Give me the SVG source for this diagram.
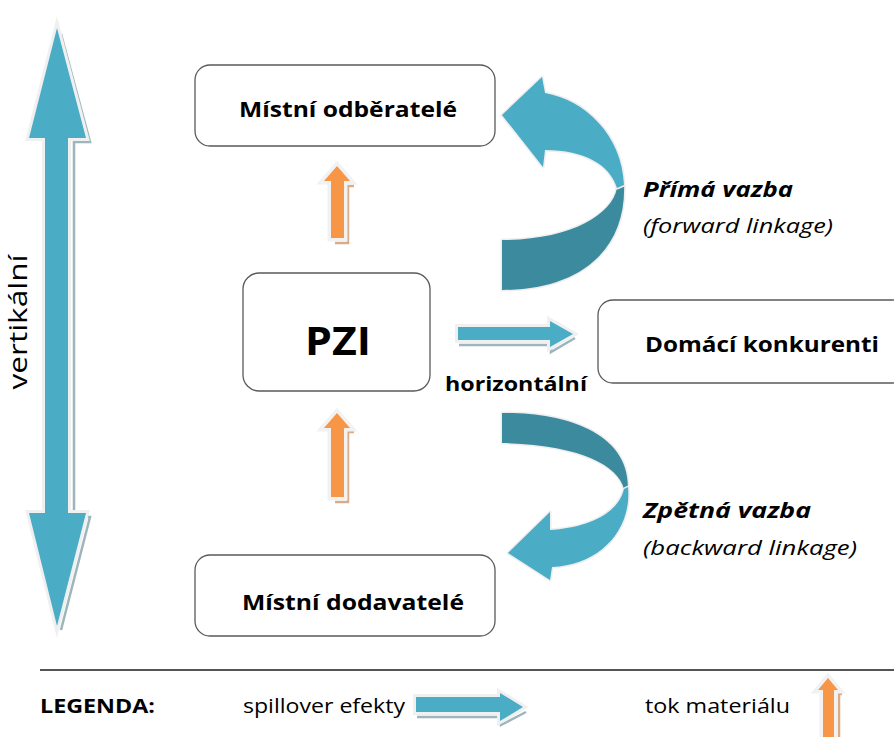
<svg xmlns="http://www.w3.org/2000/svg" width="894" height="737" viewBox="0 0 894 737">
<style>
.box{fill:#fff;stroke:#5a5a5a;stroke-width:1.3}
.t{font-family:"Open Sans","Liberation Sans",sans-serif;fill:#000}
.b{font-weight:bold}
.bl{fill:#4BACC6;stroke:#f0f0f0;stroke-width:6;stroke-linejoin:miter;stroke-miterlimit:10;paint-order:stroke}
.blc{fill:#4BACC6;stroke:#eeeeee;stroke-width:3;stroke-linejoin:round;paint-order:stroke}
.dk{fill:#3b8a9e;stroke:#eeeeee;stroke-width:3;stroke-linejoin:round;paint-order:stroke}
.bsh{fill:none;stroke:#9db5bc;stroke-width:2.5}
.or{fill:#F79646;stroke:#f2f2f2;stroke-width:7;stroke-linejoin:miter;paint-order:stroke}
.osh{fill:none;stroke:#d9ab88;stroke-width:2.5}
</style>
<rect width="894" height="737" fill="#fff"/>

<g id="vertical-arrow">
<path class="bsh" d="M59,32 L88,140 L72,140 L72,515 L88,515 L59,628" transform="translate(2,2)"/>
<path class="bl" d="M57,28 L86,138 L68,138 L68,513 L86,513 L57,626 L29,513 L45,513 L45,138 L29,138 Z"/>
<text class="t" x="0" y="0" font-size="25" transform="translate(27,322) rotate(-90)" text-anchor="middle" textLength="135" lengthAdjust="spacingAndGlyphs">vertikální</text>
</g>

<g id="mistni-odberatele">
<rect class="box" x="195" y="65" width="300" height="81" rx="15"/>
<text class="t b" x="348" y="117" font-size="22" text-anchor="middle" textLength="218" lengthAdjust="spacingAndGlyphs">Místní odběratelé</text>
</g>

<g id="pzi">
<rect class="box" x="243" y="273" width="187" height="118" rx="16"/>
<text class="t b" x="338" y="355" font-size="40" text-anchor="middle" textLength="66" lengthAdjust="spacingAndGlyphs">PZI</text>
</g>

<g id="domaci-konkurenti">
<rect class="box" x="598" y="300" width="310" height="83" rx="15"/>
<text class="t b" x="762" y="352" font-size="22" text-anchor="middle" textLength="234" lengthAdjust="spacingAndGlyphs">Domácí konkurenti</text>
</g>

<g id="mistni-dodavatele">
<rect class="box" x="195" y="555" width="300" height="81" rx="15"/>
<text class="t b" x="353" y="610" font-size="22" text-anchor="middle" textLength="222" lengthAdjust="spacingAndGlyphs">Místní dodavatelé</text>
</g>

<g id="connectors">
<path class="osh" d="M352,183 L346,183 L346,240 L333,240" transform="translate(2,3)"/>
<path class="or" d="M337,166 L350,181 L344,181 L344,238 L331,238 L331,181 L324,181 Z"/>
<path class="osh" d="M352,429 L346,429 L346,499 L333,499" transform="translate(2,3)"/>
<path class="or" d="M337,413 L350,428 L344,428 L344,497 L331,497 L331,428 L324,428 Z"/>

<path class="bsh" d="M458,342 L550,342 L550,349 L574,335" transform="translate(1,3)"/>
<path class="bl" d="M458,327 L550,327 L550,321 L573,334 L550,347 L550,340 L458,340 Z"/>

<path class="dk" d="M624,183 C627,250 580,290 502,290 L502,240 C570,240 612,215 617,188 Z"/>
<path class="blc" d="M502,115 L542,77 L545,93 C585,100 622,135 624,185 L617,188 C610,165 585,150 545,150 L543,167 Z"/>

<path class="dk" d="M502,413 C560,412 628,430 628,487 L624,489 C618,465 580,445 502,443 Z"/>
<path class="blc" d="M628,487 C632,530 600,565 552,567 L550,580 L508,553 L550,512 L550,530 C585,528 618,515 624,489 Z"/>
</g>

<g id="labels">
<text class="t b" x="516" y="391" font-size="20" text-anchor="middle" textLength="142" lengthAdjust="spacingAndGlyphs">horizontální</text>
<text class="t b" x="643" y="197" font-size="21" font-style="italic" textLength="150" lengthAdjust="spacingAndGlyphs">Přímá vazba</text>
<text class="t" x="643" y="233" font-size="20" font-style="italic" fill="#222" textLength="190" lengthAdjust="spacingAndGlyphs">(forward linkage)</text>
<text class="t b" x="643" y="518" font-size="21" font-style="italic" textLength="168" lengthAdjust="spacingAndGlyphs">Zpětná vazba</text>
<text class="t" x="643" y="555" font-size="20" font-style="italic" fill="#222" textLength="214" lengthAdjust="spacingAndGlyphs">(backward linkage)</text>
</g>

<g id="legend">
<line x1="40" y1="670" x2="894" y2="670" stroke="#555" stroke-width="2"/>
<text class="t b" x="40" y="713" font-size="19" textLength="115" lengthAdjust="spacingAndGlyphs">LEGENDA:</text>
<text class="t" x="243" y="713" font-size="20" textLength="162" lengthAdjust="spacingAndGlyphs">spillover efekty</text>
<path class="bsh" d="M416,714 L500,714 L500,722 L525,709" transform="translate(1,3)"/>
<path class="bl" d="M416,697 L500,697 L500,693 L523,707 L500,721 L500,712 L416,712 Z"/>
<text class="t" x="645" y="713" font-size="20" textLength="145" lengthAdjust="spacingAndGlyphs">tok materiálu</text>
<path class="osh" d="M839,692 L836,692 L836,737" transform="translate(3,2)"/>
<path class="or" d="M828,678 L838,690 L834,690 L834,740 L823,740 L823,690 L818,690 Z"/>
</g>
</svg>
